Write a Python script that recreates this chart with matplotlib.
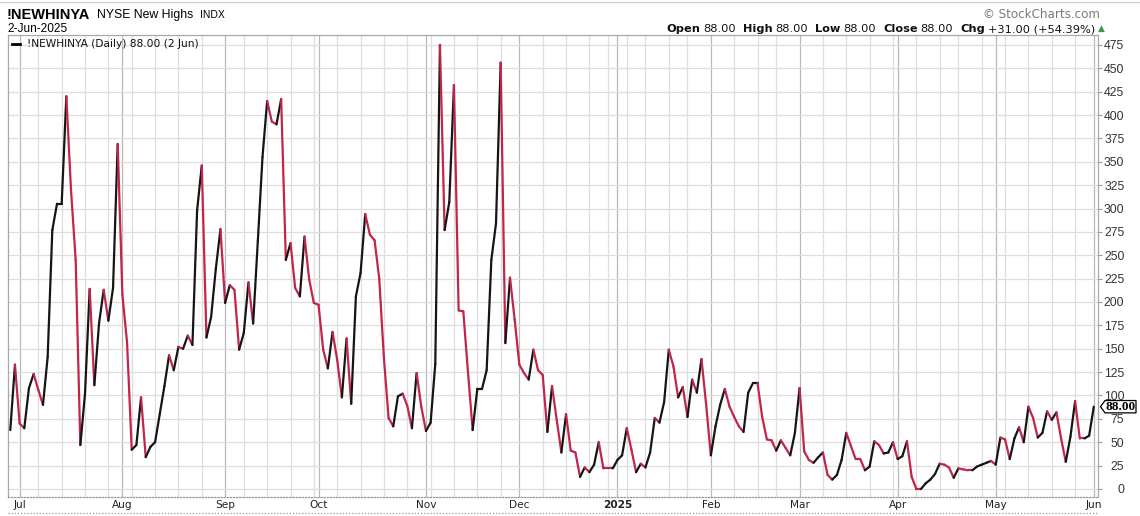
import matplotlib
matplotlib.use("Agg")
import matplotlib.pyplot as plt
import numpy as np
import pandas as pd
from matplotlib.collections import LineCollection
from matplotlib.patches import Polygon
from matplotlib.transforms import blended_transform_factory
from matplotlib.lines import Line2D

COL_UP = "#151515"
COL_DOWN = "#c2254a"
COL_GRID = "#dedede"
COL_MONTH = "#b8b8b8"

# NYSE holidays inside the window (x axis is trading days only)
holidays = ["2024-07-04", "2024-09-02", "2024-11-28", "2024-12-25", "2025-01-01",
            "2025-01-09", "2025-01-20", "2025-02-17", "2025-04-18", "2025-05-26"]
start_date = "2024-06-27"
end_date = "2025-06-02"

# daily closes of !NEWHINYA (one row per month)
new_highs = (
    [63, 133]
    + [70, 65, 108, 123, 106, 90, 141, 277, 305, 305, 420, 320, 245, 47, 102, 214, 111, 177, 213, 180, 215, 369]
    + [208, 157, 42, 47, 98, 34, 45, 50, 80, 110, 143, 127, 152, 150, 164, 154, 298, 346, 162, 184, 235, 278]
    + [199, 218, 213, 149, 167, 221, 177, 265, 355, 415, 393, 390, 417, 245, 263, 215, 206, 270, 224, 199]
    + [197, 149, 129, 168, 138, 98, 161, 91, 206, 231, 294, 272, 266, 225, 140, 76, 67, 99, 102, 89, 65, 124, 88]
    + [62, 71, 134, 475, 277, 307, 432, 191, 190, 125, 63, 107, 107, 127, 245, 284, 456, 156, 226, 181]
    + [133, 124, 117, 149, 127, 122, 61, 110, 74, 39, 80, 41, 39, 13, 23, 18, 26, 50, 22, 22, 22]
    + [31, 36, 65, 42, 18, 27, 23, 39, 76, 71, 93, 149, 131, 98, 109, 77, 117, 103, 139, 90]
    + [36, 67, 90, 107, 88, 77, 67, 61, 103, 113, 113, 77, 53, 52, 41, 52, 44, 36, 60]
    + [108, 40, 31, 28, 34, 39, 15, 10, 15, 31, 60, 46, 32, 32, 20, 24, 51, 47, 38, 39, 50]
    + [32, 35, 51, 13, 0, 0, 6, 10, 16, 27, 26, 23, 12, 22, 21, 20, 20, 24, 26, 28, 30]
    + [26, 55, 53, 32, 54, 66, 50, 88, 76, 55, 60, 83, 74, 82, 54, 29, 56, 94, 54, 54, 57]
    + [88]
)
month_names = ["Jul", "Aug", "Sep", "Oct", "Nov", "Dec", "2025",
               "Feb", "Mar", "Apr", "May", "Jun"]
y_ticks = list(range(0, 476, 25))

dates = pd.bdate_range(start_date, end_date, freq="C", holidays=holidays)
vals = np.array(new_highs, dtype=float)
n = min(len(dates), len(vals))
dates, vals = dates[:n], vals[:n]
xs = np.arange(n)

fig = plt.figure(figsize=(11.4, 5.16), dpi=100)
W, H = 1140.0, 516.0
ax = fig.add_axes([8 / W, (H - 497) / H, 1090 / W, 462 / H])

# week / month grid
month_start = [i for i in range(1, n) if dates[i].month != dates[i - 1].month]
week_start = [i for i in range(1, n)
              if dates[i].isocalendar()[1] != dates[i - 1].isocalendar()[1]]
for i in week_start:
    if i not in month_start:
        ax.axvline(i, color=COL_GRID, lw=0.9, zorder=0)
for i in month_start:
    ax.axvline(i, color=COL_MONTH, lw=0.9, zorder=0)
for v in y_ticks:
    ax.axhline(v, color=COL_GRID, lw=0.9, zorder=0)

# line coloured by direction
segs = []
cols = []
cur = COL_UP
for i in range(n - 1):
    if vals[i + 1] > vals[i]:
        cur = COL_UP
    elif vals[i + 1] < vals[i]:
        cur = COL_DOWN
    segs.append([(xs[i], vals[i]), (xs[i + 1], vals[i + 1])])
    cols.append(cur)
lc = LineCollection(segs, colors=cols, linewidths=1.6, capstyle="round",
                    joinstyle="round", zorder=3)
ax.add_collection(lc)

ax.set_xlim(-0.49, 232.9)
ax.set_ylim(-8.6, 485.6)

ax.set_xticks(month_start)
ax.set_xticklabels(month_names[:len(month_start)], fontsize=7.6, color="#222",
                   family="DejaVu Sans")
for tl in ax.get_xticklabels():
    if tl.get_text() == "2025":
        tl.set_fontweight("bold")
ax.tick_params(axis="x", length=0, pad=2.5)

ax.yaxis.tick_right()
ax.set_yticks(y_ticks)
ax.set_yticklabels([str(v) for v in y_ticks], fontsize=8.8, color="#333",
                   family="Liberation Sans")
for tl in ax.get_yticklabels():
    tl.set_ha("right")
ax.tick_params(axis="y", length=3, width=0.8, color="#999", pad=16)

for s in ["left", "top", "right"]:
    ax.spines[s].set_color("#a8a8a8")
    ax.spines[s].set_linewidth(0.9)
ax.spines["bottom"].set_color("#999")
ax.spines["bottom"].set_linestyle((0, (1, 1.5)))
ax.spines["bottom"].set_linewidth(0.9)

# dotted line under the date strip, top frame line
fig.add_artist(Line2D([8 / W, 1098 / W], [(H - 513) / H] * 2, color="#999",
                      lw=0.9, ls=(0, (1, 1.5))))
fig.add_artist(Line2D([0, 1], [1 - 2 / H] * 2, color="#cfcfcf", lw=1.0))

# price tag on the right axis
tr = blended_transform_factory(fig.transFigure, ax.transData)
last = vals[-1]
hh = 6.6
tag = Polygon([(1100.5 / W, last), (1105 / W, last + hh), (1136 / W, last + hh),
               (1136 / W, last - hh), (1105 / W, last - hh)], closed=True,
              transform=tr, facecolor="white", edgecolor="black", lw=0.9,
              clip_on=False, zorder=5)
fig.add_artist(tag)
fig.text(1120.5 / W, 0, f"{last:.2f}", transform=tr, ha="center", va="center",
         fontsize=9.5, fontweight="bold", family="Liberation Serif", zorder=6)
# move tag text to the right height
fig.texts[-1].set_position((1120.5 / W, last))

# header
def fy(py):
    return 1 - py / H

fig.text(7 / W, fy(15), "!NEWHINYA", fontsize=10.5, fontweight="bold",
         family="Liberation Sans", va="center")
fig.text(97 / W, fy(15), "NYSE New Highs", fontsize=8.8, family="Liberation Sans",
         va="center")
fig.text(200 / W, fy(15.5), "INDX", fontsize=7.5, family="Liberation Sans",
         va="center")
fig.text(7 / W, fy(29.5), "2-Jun-2025", fontsize=8.6, family="Liberation Sans",
         va="center")
fig.text(1100 / W, fy(14.5), "\u00a9 StockCharts.com", fontsize=8.6, color="#7a7a7a",
         family="DejaVu Sans", ha="right", va="center")

# OHLC run, laid out piece by piece
renderer = fig.canvas.get_renderer()
pieces = [("Open", "bold", 3), ("88.00", "normal", 7), ("High", "bold", 3),
          ("88.00", "normal", 7), ("Low", "bold", 3), ("88.00", "normal", 7),
          ("Close", "bold", 3), ("88.00", "normal", 7), ("Chg", "bold", 3),
          ("+31.00 (+54.39%)", "normal", 3)]
xp = 666.0
for s, wgt, gap in pieces:
    t = fig.text(xp / W, fy(29.5), s, fontsize=8.2, fontweight=wgt,
                 family="DejaVu Sans", va="center", color="#111")
    xp += t.get_window_extent(renderer=renderer).width + gap
fig.text(xp / W, fy(28.5), "\u25b2", fontsize=6.5, color="#3a9a4a",
         family="DejaVu Sans", va="center")

# legend line inside the chart
fig.add_artist(Line2D([12 / W, 20 / W], [fy(44)] * 2, color="black", lw=2.0))
fig.text(27 / W, fy(44), "!NEWHINYA (Daily) 88.00 (2 Jun)", fontsize=7.7,
         family="DejaVu Sans", va="center", color="#111")

fig.savefig("out.png", dpi=100)
